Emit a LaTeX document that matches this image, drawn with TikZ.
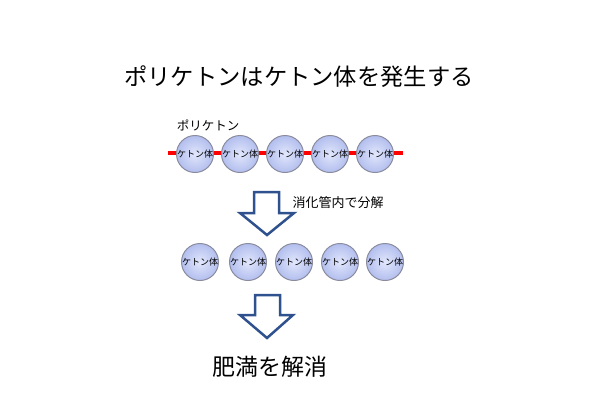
\documentclass[tikz,border=0pt]{standalone}
\usepackage{fontspec}
\setmainfont{Noto Sans CJK JP}
\usetikzlibrary{positioning}
\definecolor{ballin}{RGB}{226,231,252}
\definecolor{ballout}{RGB}{178,190,238}
\definecolor{ballrim}{RGB}{138,140,158}
\definecolor{arrowblue}{RGB}{47,82,143}

\begin{document}
\begin{tikzpicture}[x=1pt, y=-1pt,
		ketone/.style={circle, draw=ballrim, line width=1pt, inner color=ballin, outer color=ballout, minimum size=37pt, inner sep=0pt, font=\fontsize{9}{9}\selectfont},
		chain/.style={red, line width=4pt},
		bigarrow/.style={draw=arrowblue, fill=white, line width=2.5pt, line join=miter},
		label/.style={inner sep=0pt}]
		\useasboundingbox (0,0) rectangle (600,400);
		\node[label, font=\fontsize{23.3}{24}\selectfont] (title) at (299,77) {ポリケトンはケトン体を発生する};
		\node[label, font=\fontsize{12.5}{13}\selectfont] (poly) at (208,125) {ポリケトン};
		
		% chain before breakdown
		\coordinate (cl) at (168,153);
		\coordinate (cr) at (403,153);
		\draw[chain] (cl) -- (cr);
		\node[ketone] (k1) at (195,154) {ケトン体};
		\node[ketone] (k2) at (240,154) {ケトン体};
		\node[ketone] (k3) at (285,154) {ケトン体};
		\node[ketone] (k4) at (330,154) {ケトン体};
		\node[ketone] (k5) at (375,154) {ケトン体};
		
		\draw[bigarrow, shift={(267,192)}] (-13,0) -- (12,0) -- (12,21) -- (27,21) -- (0,43) -- (-27,21) -- (-13,21) -- cycle;
		\node[label, font=\fontsize{13}{13}\selectfont] (digest) at (338,203) {消化管内で分解};
		
		% free ketone bodies
		\node[ketone] (b1) at (200,262) {ケトン体};
		\node[ketone] (b2) at (248,262) {ケトン体};
		\node[ketone] (b3) at (294,262) {ケトン体};
		\node[ketone] (b4) at (340,262) {ケトン体};
		\node[ketone] (b5) at (385,262) {ケトン体};
		
		\draw[bigarrow, shift={(267,295)}] (-12,0) -- (13,0) -- (13,20) -- (26,20) -- (0,43) -- (-27,20) -- (-12,20) -- cycle;
		\node[label, font=\fontsize{23}{23}\selectfont] (result) at (270,367) {肥満を解消};
		
	\end{tikzpicture}
\end{document}
